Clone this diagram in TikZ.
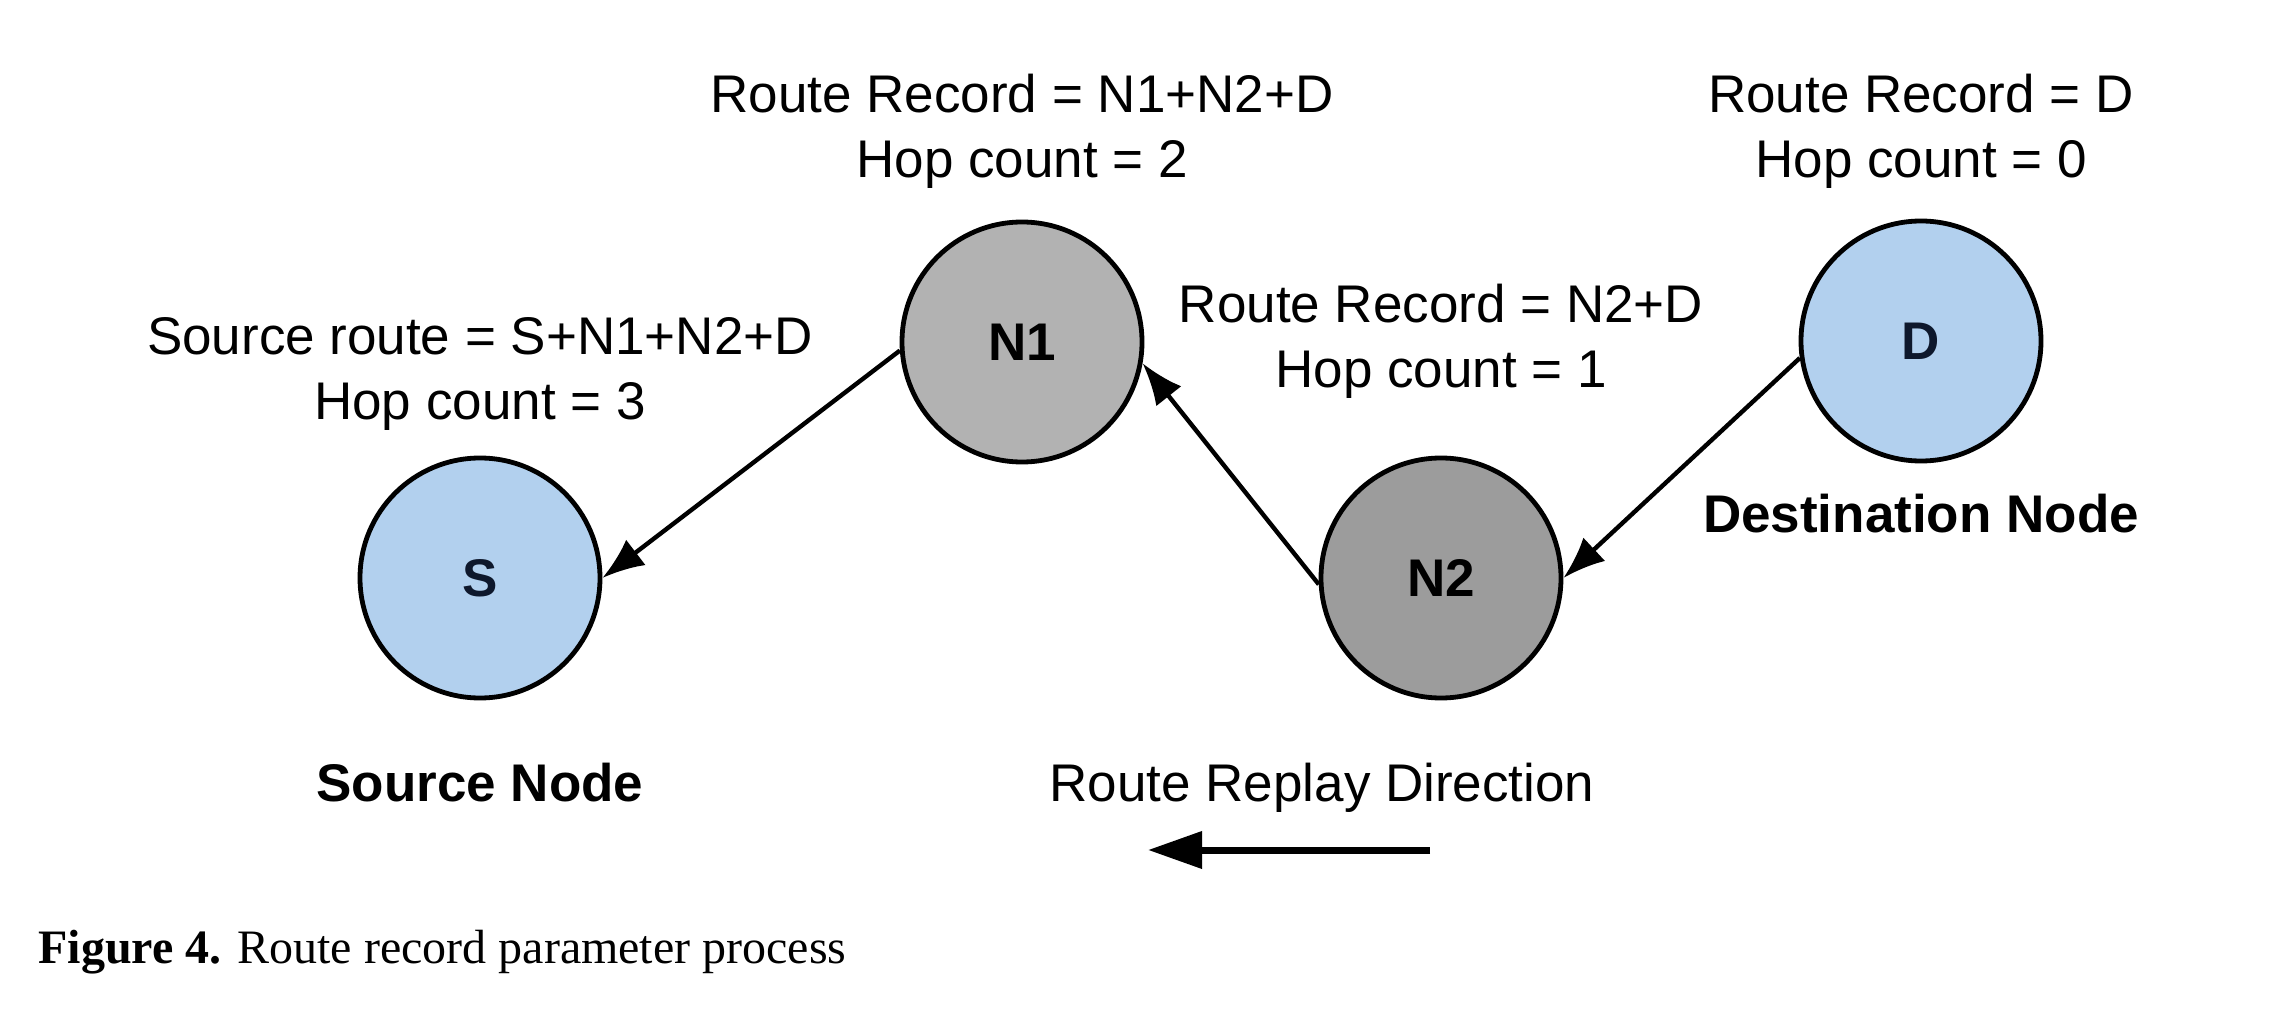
\documentclass[tikz,border=0pt]{standalone}
\usepackage{fontspec}
\setmainfont{Liberation Sans}
\newfontfamily\capfont{Liberation Serif}
\usepackage{tikz}
\usetikzlibrary{arrows.meta,positioning}
\usepackage{xcolor}
\definecolor{nodeblue}{RGB}{178,208,238}
\definecolor{relaygray}{RGB}{178,178,178}
\definecolor{relaydark}{RGB}{156,156,156}
\definecolor{labelnavy}{RGB}{14,24,44}

\begin{document}
\begin{tikzpicture}[x=0.5pt, y=-0.5pt,
  hop/.style={circle, draw=black, line width=2.4pt, minimum size=120pt, inner sep=0pt,
    font=\fontsize{26.5}{32.5}\selectfont\bfseries},
  info/.style={align=center, anchor=base, inner sep=0pt, font=\fontsize{26.5}{32.5}\selectfont},
  tag/.style={anchor=base, inner sep=0pt, font=\fontsize{26.5}{32.5}\selectfont\bfseries},
  link/.style={-{Latex[length=21pt, width=16pt]}, line width=2.2pt}]
\useasboundingbox (0,0) rectangle (2282,1026);

% nodes
\node[hop, fill=nodeblue, text=labelnavy] (S) at (480,578) {S};
\node[hop, fill=relaygray] (N1) at (1022,342) {N1};
\node[hop, fill=relaydark] (N2) at (1441,578) {N2};
\node[hop, fill=nodeblue, text=labelnavy] (D) at (1921,341) {D};

% route records (base = last line)
\node[info] (recN1) at (1022,178) {Route Record = N1+N2+D\\Hop count = 2};
\node[info] (recD) at (1921,178) {Route Record = D\\Hop count = 0};
\node[info] (recS) at (480,420) {Source route = S+N1+N2+D\\Hop count = 3};
\node[info] (recN2) at (1441,388) {Route Record = N2+D\\Hop count = 1};

\node[tag] (dstlbl) at (1921,533) {Destination Node};
\node[tag] (srclbl) at (480,801) {Source Node};
\node[info] (dirlbl) at (1322,801) {Route Replay Direction};

% reply path
\draw[link] (D.188) -- (N2.east);
\draw[link] (N2.183) -- (N1.350);
\draw[link] (N1.184) -- (S.east);

% direction arrow
\coordinate (dirR) at (1430,850);
\coordinate (dirL) at (1148,850);
\draw[-{Triangle[length=27pt, width=18pt]}, line width=3.5pt] (dirR) -- (dirL);

\node[anchor=base west, inner sep=0pt, font=\capfont\fontsize{24}{28}\selectfont] (cap) at (38,963)
  {\textbf{Figure 4.} Route record parameter process};
\end{tikzpicture}
\end{document}
